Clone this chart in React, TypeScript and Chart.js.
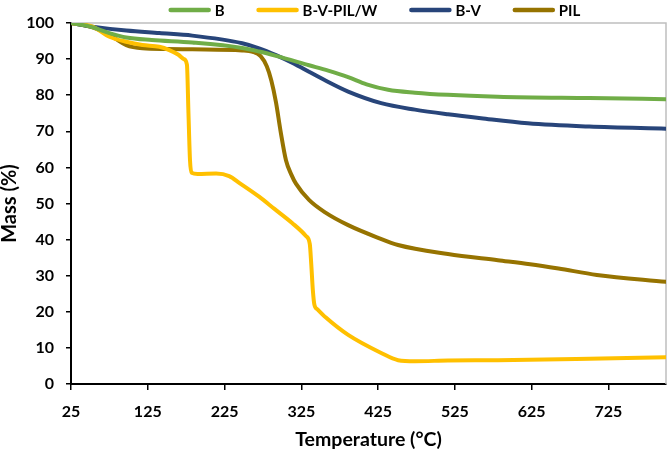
import React, { useEffect, useRef } from "react";
import { Chart, registerables } from "chart.js";

Chart.register(...registerables);

// ---- Data ----
const seriesNames = ["B", "B-V-PIL/W", "B-V", "PIL"];

const bTemp = [25, 50, 75, 97, 130, 183, 248, 270, 292, 335, 360, 386, 410, 438, 473, 516, 581, 700, 800];
const bMass = [100, 99, 97.2, 96, 95.3, 94.6, 93.1, 92.1, 90.9, 88.3, 86.8, 85.0, 83.0, 81.5, 80.7, 80.1, 79.6, 79.2, 78.9];

const bvpilTemp = [25, 53, 75, 97, 118, 140, 153, 165, 172, 176, 178, 180, 182, 190, 214, 231, 245, 270, 290, 313, 331, 336, 338, 340, 342, 346, 357, 386, 429, 451, 473, 516, 581, 700, 800];
const bvpilMass = [100, 99, 96.2, 94.8, 93.9, 93.4, 92.5, 91.2, 90.0, 88.5, 75, 62, 58.5, 58.2, 58.3, 57.6, 55.6, 51.9, 48.5, 44.6, 41.0, 38.8, 33, 26, 22, 20.7, 18.4, 13.6, 8.6, 6.6, 6.3, 6.5, 6.6, 7.0, 7.4];

const bvTemp = [25, 53, 97, 140, 183, 248, 270, 292, 315, 335, 357, 386, 429, 473, 516, 559, 620, 700, 800];
const bvMass = [100, 99, 97.9, 97.2, 96.5, 94.4, 93.0, 91.1, 88.8, 86.5, 84.0, 81.0, 77.8, 76.0, 74.7, 73.6, 72.2, 71.3, 70.7];

const pilTemp = [25, 53, 75, 97, 118, 150, 183, 248, 262, 272, 280, 286, 292, 298, 305, 312, 318, 335, 357, 386, 425, 451, 516, 581, 623, 660, 710, 800];
const pilMass = [100, 98.8, 96.7, 93.9, 93.0, 92.8, 92.7, 92.4, 92.0, 90.8, 88.0, 84.0, 78.0, 70.0, 62.0, 58.0, 55.5, 51.0, 47.4, 44.0, 40.5, 38.5, 36.0, 34.3, 33.2, 32.0, 30.2, 28.3];

const xTicks = [25, 125, 225, 325, 425, 525, 625, 725];
const xMin = 25;
const xMax = 800;
const yMin = 0;
const yMax = 100;
const yStep = 10;

const xTitle = "Temperature (°C)";
const yTitle = "Mass (%)";

// ---- Styles ----
const colors = ["#70AD47", "#FFC000", "#28457A", "#967300"];
const FONT = "Lato, 'Open Sans', 'DejaVu Sans', sans-serif";

const toPoints = (xs: number[], ys: number[]) => xs.map((x, i) => ({ x, y: ys[i] }));

const legendAndFramePlugin = {
  id: "legendAndFrame",
  beforeDatasetsDraw(chart: any) {
    const { ctx, chartArea } = chart;
    ctx.save();
    ctx.strokeStyle = "#BFBFBF";
    ctx.lineWidth = 1.5;
    ctx.beginPath();
    ctx.moveTo(chartArea.left, chartArea.top);
    ctx.lineTo(chartArea.right, chartArea.top);
    ctx.lineTo(chartArea.right, chartArea.bottom);
    ctx.stroke();
    ctx.restore();
  },
  afterDraw(chart: any) {
    const { ctx, chartArea } = chart;
    ctx.save();
    ctx.font = `bold 15px ${FONT}`;
    const lineLen = 42;
    const gap = 4;
    const spacing = 32;
    const items = chart.data.datasets.map((ds: any) => ({
      label: ds.label,
      color: ds.borderColor,
      w: ctx.measureText(ds.label).width,
    }));
    const total =
      items.reduce((s: number, it: any) => s + lineLen + gap + it.w, 0) + spacing * (items.length - 1);
    let x = (chartArea.left + chartArea.right) / 2 + 6 - total / 2;
    const y = 10;
    ctx.textBaseline = "middle";
    ctx.textAlign = "left";
    items.forEach((it: any) => {
      ctx.strokeStyle = it.color;
      ctx.lineWidth = 4.5;
      ctx.lineCap = "round";
      ctx.beginPath();
      ctx.moveTo(x + 2, y);
      ctx.lineTo(x + lineLen - 2, y);
      ctx.stroke();
      x += lineLen + gap;
      ctx.fillStyle = "#000";
      ctx.fillText(it.label, x, y + 1);
      x += it.w + spacing;
    });
    ctx.restore();
  },
};

export default function App() {
  const canvasRef = useRef<HTMLCanvasElement | null>(null);

  useEffect(() => {
    document.body.style.margin = "0";
    const canvas = canvasRef.current;
    if (!canvas) return;

    const datasets = [
      toPoints(bTemp, bMass),
      toPoints(bvpilTemp, bvpilMass),
      toPoints(bvTemp, bvMass),
      toPoints(pilTemp, pilMass),
    ].map((data, i) => ({
      label: seriesNames[i],
      data,
      borderColor: colors[i],
      backgroundColor: colors[i],
      borderWidth: 4,
      pointRadius: 0,
      showLine: true,
      cubicInterpolationMode: "monotone" as const,
      borderCapStyle: "round" as const,
      borderJoinStyle: "round" as const,
    }));

    const chart = new Chart(canvas, {
      type: "scatter",
      data: { datasets },
      options: {
        animation: false,
        responsive: false,
        devicePixelRatio: 1,
        layout: { padding: { top: 23, right: 2, left: 0, bottom: 0 } },
        plugins: {
          legend: { display: false },
          tooltip: { enabled: false },
        },
        scales: {
          x: {
            type: "linear",
            min: xMin,
            max: xMax,
            afterBuildTicks: (axis: any) => {
              axis.ticks = xTicks.map((v) => ({ value: v }));
            },
            afterFit: (scale: any) => {
              scale.height = 65;
            },
            grid: {
              drawOnChartArea: false,
              drawTicks: true,
              tickLength: 6,
              color: "#000",
              lineWidth: 1.5,
            },
            border: { display: true, color: "#000", width: 2 },
            ticks: {
              color: "#000",
              padding: 12,
              maxRotation: 0,
              autoSkip: false,
              font: { family: FONT, size: 16, weight: "bold" },
            },
            title: {
              display: true,
              text: xTitle,
              color: "#000",
              font: { family: FONT, size: 19.5, weight: "bold", lineHeight: 1 },
              padding: { top: 0, bottom: 0 },
            },
          },
          y: {
            type: "linear",
            min: yMin,
            max: yMax,
            afterFit: (scale: any) => {
              scale.width = 71;
            },
            grid: {
              drawOnChartArea: false,
              drawTicks: true,
              tickLength: 5,
              color: "#000",
              lineWidth: 1.5,
            },
            border: { display: true, color: "#000", width: 2 },
            ticks: {
              stepSize: yStep,
              color: "#000",
              padding: 12,
              font: { family: FONT, size: 16, weight: "bold" },
            },
            title: {
              display: true,
              text: yTitle,
              color: "#000",
              font: { family: FONT, size: 20, weight: "bold", lineHeight: 1 },
              padding: { top: 0, bottom: 0 },
            },
          },
        },
      },
      plugins: [legendAndFramePlugin],
    });

    return () => chart.destroy();
  }, []);

  return (
    <div style={{ width: 668, height: 449 }}>
      <canvas ref={canvasRef} width={668} height={449} style={{ width: 668, height: 449 }} />
    </div>
  );
}
